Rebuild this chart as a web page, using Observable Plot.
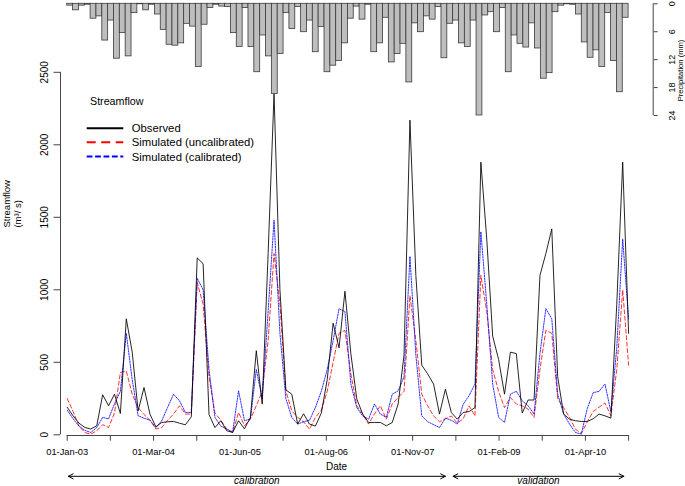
<!DOCTYPE html>
<html><head><meta charset="utf-8">
<script src="https://cdn.jsdelivr.net/npm/d3@7"></script>
<script src="https://cdn.jsdelivr.net/npm/@observablehq/plot@0.6"></script>
<style>
body{margin:0;background:#fff;}
#chart{position:relative;width:685px;height:486px;background:#fff;font-family:"Liberation Sans",Arial,sans-serif;}
#chart svg{position:absolute;left:0;top:0;}
</style></head><body><div id="chart"></div>
<script>
// ---- data (monthly, Jan-2003 .. Dec-2010) ----
const observed = [190,130,80,50,40,62,276,200,280,147,
800,570,165,326,143,55,85,90,92,80,
69,124,1220,1180,140,50,97,28,16,97,
41,120,580,212,1250,2350,1000,310,280,74,
145,74,60,150,380,770,600,990,560,248,
143,85,85,85,62,85,212,550,2170,1100,
480,420,350,143,315,154,108,154,160,188,
1880,1350,680,520,280,570,560,150,240,240,
1100,1250,1420,400,143,108,97,92,92,110,
143,131,115,900,1880,700];
const simUncalibrated = [250,160,60,15,5,28,70,50,150,430,
440,280,188,140,101,40,50,101,143,200,
143,143,1050,900,400,150,100,40,15,154,
62,108,200,300,650,1250,900,303,166,120,
90,39,120,170,300,500,700,720,420,200,
143,74,145,200,108,212,257,300,960,650,
280,200,130,90,110,130,80,110,200,130,
1100,850,450,300,188,257,212,200,177,120,
450,720,700,250,188,120,39,9,90,160,
190,220,131,450,1000,480];
const simCalibrated = [170,110,60,30,16,50,120,110,214,300,
700,380,131,115,101,50,97,190,280,234,
154,154,1080,1000,450,120,60,40,20,303,
97,110,450,250,850,1480,700,250,120,74,
90,100,188,300,450,650,870,850,350,188,
130,108,212,143,120,280,303,400,1230,550,
130,90,70,50,115,100,74,210,270,350,
1400,900,350,120,85,280,300,234,200,143,
560,870,800,280,145,74,16,5,180,290,
300,350,160,600,1350,800];
const precipitation = [0.4,1.4,0.4,0.2,3.2,2.7,7.9,3.6,11.8,6.3,
11.3,2.0,0.1,1.4,0.2,2.3,5.6,8.8,9.0,8.5,
4.3,4.9,13.6,4.5,0.9,0.2,0.6,0.7,6.3,9.3,
0.9,9.3,14.7,6.8,11.3,19.4,10.8,2.0,5.4,0.7,
6.1,3.6,10.4,5.0,14.7,13.3,12.3,8.5,3.2,0.6,
3.4,0.2,10.4,8.5,3.0,12.6,10.8,8.6,16.9,4.2,
6.1,2.7,3.4,0.7,11.7,4.3,3.6,8.5,9.3,3.6,
24.0,2.5,1.8,6.1,0.9,14.7,6.8,8.6,9.4,4.2,
9.6,16.1,14.9,1.8,0.4,0.1,0.2,2.3,8.3,11.6,
10.0,13.6,2.0,12.3,19.0,3.0];
const xTickLabels = ["01-Jan-03","","01-Mar-04","","01-Jun-05","","01-Aug-06","","01-Nov-07","","01-Feb-09","","01-Apr-10",""];
const yTicks = [0,500,1000,1500,2000,2500];
const precipTicks = [0,6,12,18,24];
const periodNames = ["calibration","validation"];
const periodStart = [1.2, 66.3];
const periodEnd = [65, 95.2];
const seriesNames = ["Observed","Simulated (uncalibrated)","Simulated (calibrated)"];
const seriesColors = ["#000000","#ff0000","#0000ff"];

// ---- layout ----
const W = 685, H = 486;
const mL = 66.7, mR = 56.9;
const FONT = '"Liberation Sans", Arial, Helvetica, sans-serif';
const n = observed.length;
const rows = observed.map((v, i) => ({t: i + 1, obs: v, unc: simUncalibrated[i], cal: simCalibrated[i]}));
const xTicks = d3.range(xTickLabels.length).map(k => 1 + k * (n - 1) / (xTickLabels.length - 1));
const tickLabelOf = new Map(xTicks.map((p, i) => [p, xTickLabels[i]]));
const periods = periodNames.map((name, i) => ({name, a: periodStart[i], b: periodEnd[i], mid: (periodStart[i] + periodEnd[i]) / 2}));
const arrowRows = periods.flatMap(p => [{x1: p.mid, x2: p.a}, {x1: p.mid, x2: p.b}]);
const axisCol = "#444";
const plain = d => String(d);

const mainChart = Plot.plot({
  width: W, height: H,
  marginLeft: mL, marginRight: mR, marginTop: 71.8, marginBottom: 51.7,
  style: {background: "transparent", fontFamily: FONT, color: "#000", overflow: "visible"},
  x: {domain: [1, n]},
  y: {domain: [yTicks[0], yTicks[yTicks.length - 1]]},
  marks: [
    Plot.ruleX([1], {y1: yTicks[0], y2: yTicks[yTicks.length - 1], dx: -6.7, stroke: axisCol}),
    Plot.axisY({ticks: yTicks, tickFormat: plain, tickRotate: -90, dx: -6.7, tickSize: 6.5, tickPadding: 5.5, stroke: axisCol, fill: "#000", fontSize: 10, label: null}),
    Plot.ruleY([0], {x1: xTicks[0], x2: xTicks[xTicks.length - 1], dy: 0.7, stroke: axisCol}),
    Plot.axisX({ticks: xTicks, tickFormat: d => tickLabelOf.get(d), tickSize: 5.7, tickPadding: 7, dy: 0.7, stroke: axisCol, fill: "#000", fontSize: 9.3, label: null}),
    Plot.line(rows, {x: "t", y: "unc", stroke: seriesColors[1], strokeWidth: 1, strokeDasharray: "4,2.5", strokeOpacity: 0.8}),
    Plot.line(rows, {x: "t", y: "cal", stroke: seriesColors[2], strokeWidth: 1, strokeDasharray: "1.5,1.2", strokeOpacity: 0.8}),
    Plot.line(rows, {x: "t", y: "obs", stroke: seriesColors[0], strokeWidth: 1, strokeOpacity: 0.85}),
    Plot.text(["Date"], {frameAnchor: "bottom", dx: -11.4, dy: 35.5, fontSize: 10, fill: "#000"}),
    Plot.arrow(arrowRows, {x1: "x1", x2: "x2", y1: 0, y2: 0, dy: 41.5, headLength: 8, headAngle: 55, stroke: "#000", strokeWidth: 1}),
    Plot.text(periods, {x: "mid", y: 0, text: "name", dy: 46.3, fontSize: 10, fontStyle: "italic", fill: "#000"}),
    Plot.text(["Streamflow"], {frameAnchor: "left", rotate: -90, dx: -60.2, dy: -26, fontSize: 9.5, fill: "#000"}),
    Plot.text(["(m³/ s)"], {frameAnchor: "left", rotate: -90, dx: -49.2, dy: -26, fontSize: 9.5, fill: "#000"})
  ]
});

const barRows = precipitation.map((v, i) => ({a: 1 + i * (n - 1) / n, b: 1 + (i + 1) * (n - 1) / n, p: v}));
const precipChart = Plot.plot({
  width: W, height: 125,
  marginLeft: mL, marginRight: mR, marginTop: 3.3, marginBottom: 10,
  style: {background: "transparent", fontFamily: FONT, color: "#000", overflow: "visible"},
  x: {domain: [1, n], axis: null},
  y: {domain: [precipTicks[0], precipTicks[precipTicks.length - 1]], reverse: true},
  marks: [
    Plot.rectY(barRows, {x1: "a", x2: "b", y: "p", fill: "#bebebe", stroke: "#3a3a3a", strokeWidth: 0.8}),
    Plot.ruleX([n], {y1: precipTicks[0], y2: precipTicks[precipTicks.length - 1], dx: 24.6, stroke: axisCol}),
    Plot.axisY({anchor: "right", ticks: precipTicks, tickFormat: plain, tickRotate: -90, dx: 24.6, tickSize: 4, tickPadding: 11.6, lineAnchor: "top", stroke: axisCol, fill: "#000", fontSize: 9, label: null}),
    Plot.text(["Precipitation (mm)"], {frameAnchor: "right", rotate: -90, dx: 51.9, dy: -20, fontSize: 7.6, fill: "#000"})
  ]
});

// legend
const leg = d3.create("svg").attr("width", W).attr("height", H).style("background", "transparent");
leg.append("text").attr("x", 90).attr("y", 105).attr("font-family", FONT).attr("font-size", 10.7).text("Streamflow");
const legY = [128.3, 142.3, 156.6];
const legDash = [null, "9,5.5", "5.8,2.6"];
seriesNames.forEach((name, i) => {
  const ln = leg.append("line").attr("x1", 86.7).attr("x2", 123.3).attr("y1", legY[i]).attr("y2", legY[i])
    .attr("stroke", seriesColors[i]).attr("stroke-width", 2);
  if (legDash[i]) ln.attr("stroke-dasharray", legDash[i]);
  leg.append("text").attr("x", 131.7).attr("y", legY[i] + 4.1).attr("font-family", FONT).attr("font-size", 11.3).text(name);
});

const root = document.getElementById("chart");
root.append(precipChart);
root.append(mainChart);
root.append(leg.node());
</script></body></html>
